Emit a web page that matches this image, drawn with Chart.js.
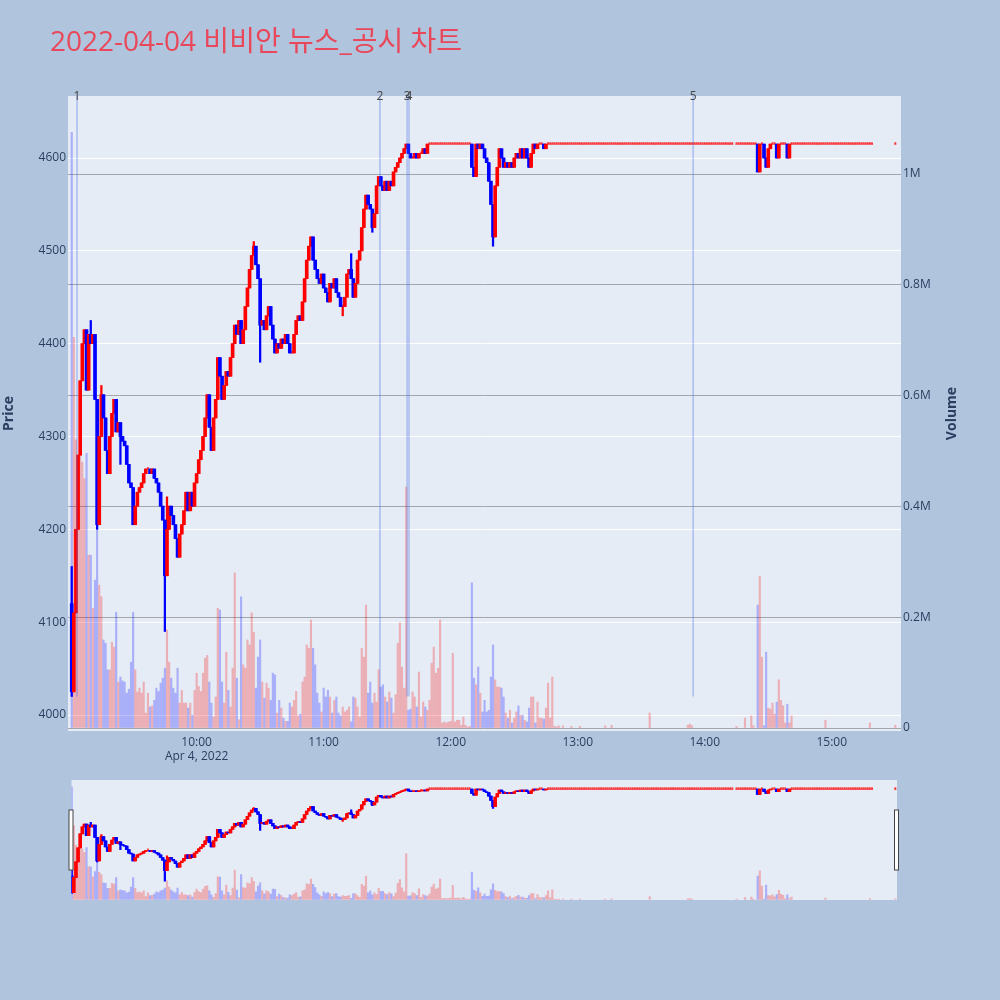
<!DOCTYPE html>
<html>
<head>
<meta charset="utf-8">
<script src="https://cdn.jsdelivr.net/npm/chart.js@4.4.1/dist/chart.umd.min.js"></script>
<style>
  body { margin: 0; background: #b0c4de; }
  #wrap { position: relative; width: 1000px; height: 1000px; }
  #title { position: absolute; left: 50px; top: 19px; font: 28px 'Open Sans', 'Noto Sans CJK KR', sans-serif; color: #e8485a; white-space: nowrap; }
  #main { position: absolute; left: 0; top: 0; }
  #slider { position: absolute; left: 0; top: 770px; }
</style>
</head>
<body>
<div id="wrap">
  <canvas id="main" width="1000" height="780"></canvas>
  <canvas id="slider" width="1000" height="140"></canvas>
  <div id="title">2022-04-04 비비안 뉴스_공시 차트</div>
</div>
<script>
// minute index: 1 = 09:01 ... 390 = 15:30, null = no trade
const firstOpen = 4120;
const closes = [
  4025, 4110, 4200, 4280, 4360, 4400, 4415, 4350, 4410, 4400,
  4410, 4340, 4205, 4300, 4345, 4320, 4285, 4260, 4300, 4325,
  4340, 4305, 4315, 4300, 4295, 4290, 4270, 4250, 4245, 4205,
  4225, 4240, 4245, 4250, 4260, 4265, 4265, 4260, 4265, 4255,
  4250, 4240, 4225, 4210, 4150, 4200, 4225, 4215, 4205, 4190,
  4170, 4195, 4205, 4220, 4240, 4220, 4240, 4225, 4250, 4260,
  4275, 4285, 4300, 4320, 4345, 4310, 4285, 4320, 4340, 4385,
  4365, 4340, 4355, 4370, 4365, 4385, 4400, 4420, 4410, 4425,
  4400, 4415, 4440, 4460, 4480, 4495, 4505, 4485, 4470, 4420,
  4425, 4415, 4430, 4440, 4420, 4405, 4390, 4400, 4395, 4405,
  4400, 4410, 4400, 4390, 4390, 4410, 4425, 4430, 4425, 4445,
  4470, 4490, 4505, 4515, 4490, 4480, 4470, 4465, 4475, 4460,
  4455, 4445, 4465, 4460, 4470, 4455, 4450, 4440, 4440, 4450,
  4475, 4480, 4470, 4450, 4465, 4490, 4500, 4525, 4545, 4560,
  4550, 4545, 4525, 4540, 4570, 4580, 4570, 4565, 4575, 4565,
  4575, 4570, 4585, 4590, 4595, 4600, 4605, 4610, 4615, 4605,
  4600, 4600, 4605, 4600, 4605, 4605, 4610, 4605, 4615, 4615,
  4615, 4615, 4615, 4615, 4615, 4615, 4615, 4615, 4615, 4615,
  4615, 4615, 4615, 4615, 4615, 4615, 4615, 4615, 4615, 4590,
  4580, 4615, 4610, 4615, 4610, 4600, 4595, 4575, 4550, 4515,
  4570, 4590, 4610, 4600, 4590, 4595, 4590, 4595, 4590, 4600,
  4605, 4600, 4610, 4600, 4610, 4600, 4590, 4605, 4615, 4610,
  4615, 4615, 4615, 4610, 4615, 4615, 4615, 4615, 4615, 4615,
  4615, 4615, 4615, 4615, 4615, 4615, 4615, 4615, 4615, 4615,
  4615, 4615, 4615, 4615, 4615, 4615, 4615, 4615, 4615, 4615,
  4615, 4615, 4615, 4615, 4615, 4615, 4615, 4615, 4615, 4615,
  4615, 4615, 4615, 4615, 4615, 4615, 4615, 4615, 4615, 4615,
  4615, 4615, 4615, 4615, 4615, 4615, 4615, 4615, 4615, 4615,
  4615, 4615, 4615, 4615, 4615, 4615, 4615, 4615, 4615, 4615,
  4615, 4615, 4615, 4615, 4615, 4615, 4615, 4615, 4615, 4615,
  4615, 4615, 4615, 4615, 4615, 4615, 4615, 4615, 4615, 4615,
  4615, 4615, 4615, null, 4615, 4615, 4615, 4615, 4615, 4615,
  4615, 4615, 4615, 4615, 4585, 4615, 4615, 4600, 4590, 4610,
  4615, 4615, 4615, 4600, 4615, 4615, 4615, 4615, 4600, 4615,
  4615, 4615, 4615, 4615, 4615, 4615, 4615, 4615, 4615, 4615,
  4615, 4615, 4615, 4615, 4615, 4615, 4615, 4615, 4615, 4615,
  4615, 4615, 4615, 4615, 4615, 4615, 4615, 4615, 4615, 4615,
  4615, 4615, 4615, 4615, 4615, 4615, 4615, 4615, 4615, null,
  null, null, null, null, null, null, null, null, null, 4615
];
const spikeHighs = [[1, 4160], [10, 4425], [15, 4355], [46, 4235], [87, 4510], [133, 4497]];
const spikeLows = [[1, 4020], [13, 4200], [24, 4270], [45, 4090], [90, 4380], [129, 4430], [143, 4520], [200, 4505]];

// volume in thousands, minutes 1..231
const volumesK = [
  1075, 705, 520, 400, 575, 480, 450, 496, 312, 312,
  216, 267, 357, 258, 237, 159, 153, 105, 105, 155,
  146, 209, 83, 92, 85, 83, 63, 70, 119, 209,
  105, 65, 72, 63, 83, 27, 63, 38, 40, 50,
  72, 66, 81, 90, 108, 177, 119, 90, 72, 63,
  108, 45, 68, 45, 45, 36, 45, 23, 68, 99,
  75, 66, 99, 126, 131, 83, 45, 20, 56, 216,
  213, 83, 45, 137, 68, 38, 108, 280, 90, 15,
  237, 114, 108, 159, 150, 208, 173, 72, 128, 159,
  83, 54, 81, 72, 50, 99, 96, 27, 50, 36,
  18, 12, 12, 45, 38, 50, 66, 22, 25, 83,
  92, 150, 144, 195, 144, 114, 63, 45, 29, 72,
  56, 68, 56, 27, 50, 56, 27, 22, 38, 29,
  32, 38, 11, 56, 54, 38, 20, 144, 128, 222,
  63, 83, 45, 63, 47, 105, 74, 78, 56, 47,
  65, 54, 27, 60, 153, 190, 110, 72, 435, 32,
  34, 65, 56, 38, 101, 20, 47, 38, 32, 50,
  117, 146, 99, 108, 195, 9, 11, 9, 11, 12,
  135, 11, 14, 14, 5, 20, 5, 2, 3, 262,
  90, 78, 110, 63, 29, 50, 29, 32, 92, 150,
  87, 74, 74, 72, 56, 27, 18, 32, 9, 18,
  29, 40, 23, 23, 14, 11, 36, 56, 56, 9,
  47, 18, 18, 16, 36, 81, 18, 92, 3, 2,
  4
];
// afternoon volume, [minute, thousands]
const pmVolumes = [
  [233, 4], [237, 3], [241, 3], [253, 4], [256, 5], [274, 27], [292, 5], [293, 7], [294, 4],
  [315, 3], [319, 18], [322, 22], [323, 4], [325, 222], [326, 274], [327, 128], [328, 4],
  [329, 137], [330, 36], [331, 34], [332, 45], [333, 25], [334, 47], [335, 87], [336, 50],
  [337, 40], [338, 9], [339, 43], [340, 9], [341, 22], [357, 14], [378, 9], [390, 5]
];

const newsMinutes = [3.5, 146.6, 159.4, 160.3, 294.5];
const newsLabels = ['1', '2', '3', '4', '5'];
const newsLineBottoms = [4020, 3983, 4020, 4020, 4020];

const hourTicks = [60, 120, 180, 240, 300, 360];
const hourLabels = ['10:00', '11:00', '12:00', '13:00', '14:00', '15:00'];
const dateLabel = 'Apr 4, 2022';
const priceTicks = [4000, 4100, 4200, 4300, 4400, 4500, 4600];
const volumeTicks = [0, 200000, 400000, 600000, 800000, 1000000];
const volumeTickLabels = ['0', '0.2M', '0.4M', '0.6M', '0.8M', '1M'];

const UP = 'rgb(255,0,0)', DOWN = 'rgb(0,0,255)';
const UP_V = 'rgba(255,0,0,0.26)', DOWN_V = 'rgba(0,0,255,0.26)';
const TXT = '#2a3f5f';

// build candle rows
const volByMin = {};
volumesK.forEach((v, i) => { volByMin[i + 1] = v; });
pmVolumes.forEach(([m, v]) => { volByMin[m] = v; });

const rows = [];
let prev = firstOpen;
closes.forEach((c, i) => {
  if (c === null) return;
  const o = prev;
  rows.push({ m: i + 1, o, c, h: Math.max(o, c), l: Math.min(o, c), v: (volByMin[i + 1] || 0) * 1000 });
  prev = c;
});
spikeHighs.forEach(([m, p]) => { const r = rows.find(r => r.m === m); if (r) r.h = Math.max(r.h, p); });
spikeLows.forEach(([m, p]) => { const r = rows.find(r => r.m === m); if (r) r.l = Math.min(r.l, p); });
const isUp = r => r.c >= r.o;

function makeDatasets() {
  const bodies = rows.filter(r => r.c !== r.o);
  const dojis = rows.filter(r => r.c === r.o);
  const vols = rows.filter(r => r.v > 0);
  return [
    {
      label: 'Volume', yAxisID: 'yv', order: 3, grouped: false, barThickness: 1.5,
      data: vols.map(r => ({ x: r.m, y: r.v })),
      backgroundColor: vols.map(r => isUp(r) ? UP_V : DOWN_V)
    },
    {
      label: 'wick', yAxisID: 'y', order: 2, grouped: false, barThickness: 1.6,
      data: rows.map(r => ({ x: r.m, y: [r.l, r.h] })),
      backgroundColor: rows.map(r => isUp(r) ? UP : DOWN)
    },
    {
      label: 'body', yAxisID: 'y', order: 1, grouped: false, barThickness: 3,
      data: bodies.map(r => ({ x: r.m, y: [r.o, r.c] })),
      backgroundColor: bodies.map(r => isUp(r) ? UP : DOWN)
    },
    {
      label: 'doji', yAxisID: 'y', order: 1, grouped: false, barThickness: 1.2, minBarLength: 1.6,
      data: dojis.map(r => ({ x: r.m, y: [r.o, r.c] })),
      backgroundColor: 'rgba(255,0,0,0.7)'
    }
  ];
}

Chart.defaults.font.family = "'Open Sans', sans-serif";
Chart.defaults.font.size = 12;
Chart.defaults.color = TXT;

const plotBg = {
  id: 'plotBg',
  beforeDraw(chart) {
    const { ctx, chartArea: a } = chart;
    ctx.save();
    ctx.fillStyle = '#e5ecf6';
    ctx.fillRect(a.left, a.top, a.right - a.left, a.bottom - a.top);
    ctx.restore();
  }
};

const newsLines = {
  id: 'newsLines',
  afterDatasetsDraw(chart) {
    const { ctx, chartArea: a, scales } = chart;
    ctx.save();
    ctx.strokeStyle = 'rgba(65,105,225,0.55)';
    ctx.lineWidth = 1;
    newsMinutes.forEach((m, i) => {
      const x = scales.x.getPixelForValue(m);
      const yb = Math.min(scales.y.getPixelForValue(newsLineBottoms[i]), a.bottom - 3);
      ctx.beginPath();
      ctx.moveTo(x, a.top);
      ctx.lineTo(x, yb);
      ctx.stroke();
    });
    ctx.fillStyle = '#444';
    ctx.font = "12px 'Open Sans', sans-serif";
    ctx.textAlign = 'center';
    ctx.textBaseline = 'middle';
    newsMinutes.forEach((m, i) => {
      ctx.fillText(newsLabels[i], scales.x.getPixelForValue(m), a.top + 1);
    });
    ctx.restore();
  }
};

const volumeTitle = {
  id: 'volumeTitle',
  afterDraw(chart) {
    const { ctx, chartArea: a } = chart;
    ctx.save();
    ctx.translate(952, (a.top + a.bottom) / 2);
    ctx.rotate(-Math.PI / 2);
    ctx.font = "bold 14px 'Open Sans', sans-serif";
    ctx.fillStyle = TXT;
    ctx.textAlign = 'center';
    ctx.textBaseline = 'middle';
    ctx.fillText('Volume', 0, 0);
    ctx.restore();
  }
};

const sliderHandles = {
  id: 'sliderHandles',
  afterDraw(chart) {
    const { ctx, chartArea: a } = chart;
    const mid = (a.top + a.bottom) / 2;
    ctx.save();
    ctx.fillStyle = '#fff';
    ctx.strokeStyle = '#444';
    ctx.lineWidth = 1;
    [a.left - 2, a.right - 2].forEach(x => {
      ctx.fillRect(x - 0.5, mid - 30, 4, 60);
      ctx.strokeRect(x - 0.5, mid - 30, 4, 60);
    });
    ctx.restore();
  }
};

new Chart(document.getElementById('main'), {
  type: 'bar',
  data: { datasets: makeDatasets() },
  options: {
    responsive: false,
    animation: false,
    layout: { padding: { top: 96, right: 40, bottom: 9, left: 0 } },
    plugins: { legend: { display: false }, tooltip: { enabled: false } },
    scales: {
      x: {
        type: 'linear', min: -0.76, max: 392.7, offset: false,
        grid: { display: false, drawTicks: false }, border: { display: false },
        afterBuildTicks: s => { s.ticks = hourTicks.map(v => ({ value: v })); },
        ticks: {
          autoSkip: false, maxRotation: 0, padding: 4,
          callback: v => {
            const i = hourTicks.indexOf(v);
            return i === 0 ? [hourLabels[i], dateLabel] : hourLabels[i];
          }
        },
        afterFit: s => { s.height = 40; }
      },
      y: {
        position: 'left', min: 3982.8, max: 4666.8,
        grid: { color: '#ffffff', drawTicks: false }, border: { display: false },
        afterBuildTicks: s => { s.ticks = priceTicks.map(v => ({ value: v })); },
        ticks: { padding: 2, callback: v => String(v) },
        title: { display: true, text: 'Price', font: { size: 14, weight: 'bold' }, padding: { top: 1, bottom: 0 } },
        afterFit: s => { s.width = 68; }
      },
      yv: {
        position: 'right', min: -5400, max: 1140800,
        grid: { color: '#a3a7ab', drawTicks: false }, border: { display: false },
        afterBuildTicks: s => { s.ticks = volumeTicks.map(v => ({ value: v })); },
        ticks: { padding: 2, callback: v => volumeTickLabels[volumeTicks.indexOf(v)] },
        afterFit: s => { s.width = 59; }
      }
    }
  },
  plugins: [plotBg, newsLines, volumeTitle]
});

new Chart(document.getElementById('slider'), {
  type: 'bar',
  data: { datasets: makeDatasets() },
  options: {
    responsive: false,
    animation: false,
    layout: { padding: { top: 10, right: 103, bottom: 10, left: 71.5 } },
    plugins: { legend: { display: false }, tooltip: { enabled: false } },
    scales: {
      x: { type: 'linear', min: 0.9, max: 390.8, offset: false, display: false },
      y: { min: 3982.8, max: 4666.8, display: false },
      yv: { position: 'right', min: -5400, max: 1140800, display: false }
    }
  },
  plugins: [plotBg, sliderHandles]
});
</script>
</body>
</html>
